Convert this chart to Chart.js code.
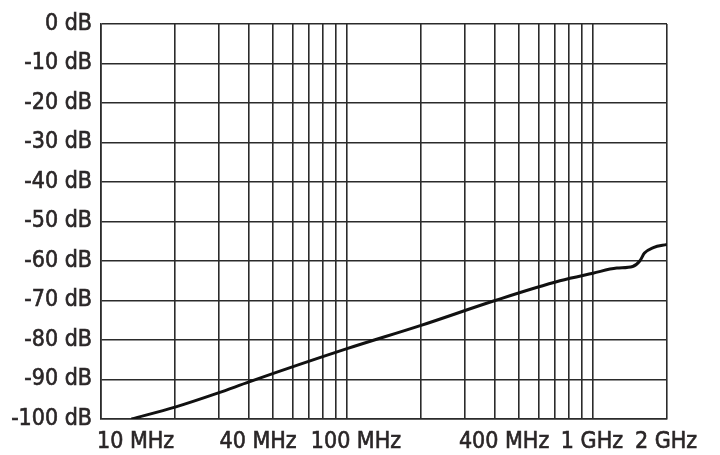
<!DOCTYPE html>
<html>
<head>
<meta charset="utf-8">
<script src="https://cdn.jsdelivr.net/npm/chart.js@4.4.1/dist/chart.umd.min.js"></script>
<style>
html, body { margin: 0; padding: 0; background: #fff; }
#wrap { width: 720px; height: 455px; position: relative; }
</style>
</head>
<body>
<div id="wrap"><canvas id="mychart"></canvas></div>
<script>
// curve (MHz, dB)
const freqMHz  = [13.3, 20, 30, 40, 100, 200, 400, 734, 1000, 1250, 1450, 1550, 1620, 1760, 2000];
const attenDb  = [-100, -97, -93.4, -90.6, -82.2, -76.3, -70, -65.0, -63.1, -61.8, -61.4, -60, -58, -56.6, -55.8];

// vertical grid lines and the labelled ones
const gridFreqs  = [10, 20, 30, 40, 50, 60, 70, 80, 90, 100, 200, 300, 400, 500, 600, 700, 800, 900, 1000, 2000];
const labelFreqs = [10, 40, 100, 400, 1000, 2000];
const labelTexts = ['10 MHz', '40 MHz', '100 MHz', '400 MHz', '1 GHz', '2 GHz'];

const yMin = -100, yMax = 0, yStep = 10;

const textColor = '#2a2627';
const gridColor = '#2b2b2b';
const fontFamily = '"DejaVu Sans Condensed", "DejaVu Sans", sans-serif';

// x labels are drawn by hand so the first one can sit right of the axis edge
const xLabelPlugin = {
    id: 'xLabels',
    afterDraw(chart) {
        const ctx = chart.ctx
        const xs = chart.scales.x
        ctx.save()
        ctx.font = '23px ' + fontFamily
        ctx.fillStyle = textColor
        ctx.strokeStyle = textColor
        ctx.lineWidth = 0.6
        ctx.textBaseline = 'top'
        labelFreqs.forEach(function (f, i) {
            let px = xs.getPixelForValue(f)
            if (i === 0) {
                ctx.textAlign = 'left'
                px -= 4
            } else {
                ctx.textAlign = 'center'
                px += f >= 1000 ? -1 : 9
            }
            const y = chart.chartArea.bottom + 12
            ctx.fillText(labelTexts[i], px, y)
            ctx.strokeText(labelTexts[i], px, y)
        })
        ctx.restore()
    }
}

document.addEventListener('DOMContentLoaded', function () {
    const ctx = document.getElementById('mychart').getContext('2d')
    new Chart(ctx, {
        type: 'line',
        data: {
            datasets: [{
                data: freqMHz.map((f, i) => ({ x: f, y: attenDb[i] })),
                borderColor: '#111',
                borderWidth: 3,
                pointRadius: 0,
                fill: false,
                cubicInterpolationMode: 'monotone'
            }]
        },
        options: {
            responsive: true,
            maintainAspectRatio: false,
            animation: false,
            layout: { padding: { top: 24, right: 53, bottom: 0, left: 0 } },
            plugins: {
                legend: { display: false },
                tooltip: { enabled: false }
            },
            scales: {
                x: {
                    type: 'logarithmic',
                    min: 10,
                    max: 2000,
                    afterBuildTicks: function (scale) {
                        scale.ticks = gridFreqs.map(v => ({ value: v }))
                    },
                    afterFit: function (scale) { scale.height = 36 },
                    ticks: { display: false, autoSkip: false },
                    grid: { color: gridColor, lineWidth: 1.6, drawTicks: false },
                    border: { color: gridColor, width: 1.6 }
                },
                y: {
                    min: yMin,
                    max: yMax,
                    afterFit: function (scale) { scale.width = 101 },
                    ticks: {
                        stepSize: yStep,
                        padding: 9,
                        color: textColor,
                        textStrokeColor: textColor,
                        textStrokeWidth: 0.6,
                        font: { family: fontFamily, size: 23 },
                        callback: v => v + ' dB'
                    },
                    grid: { color: gridColor, lineWidth: 1.6, drawTicks: false },
                    border: { color: gridColor, width: 1.6 }
                }
            }
        },
        plugins: [xLabelPlugin]
    })
})
</script>
</body>
</html>
